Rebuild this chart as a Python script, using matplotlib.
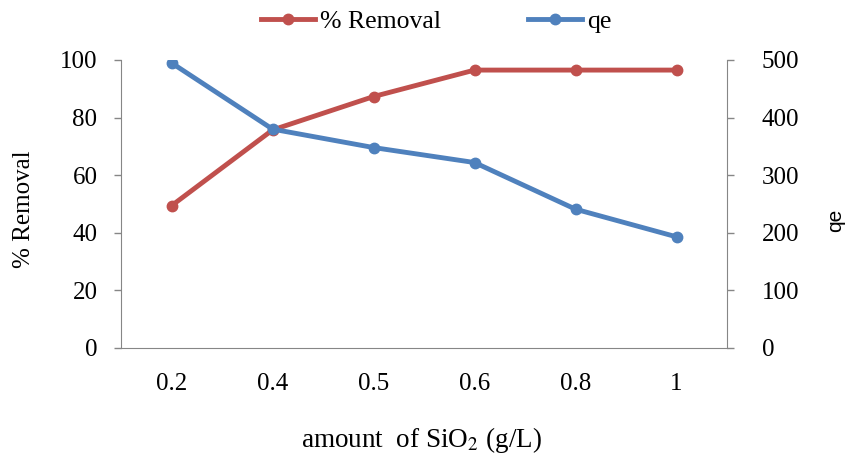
import numpy as np
import matplotlib.pyplot as plt

plt.rcParams['font.family'] = 'Liberation Serif'
plt.rcParams['mathtext.fontset'] = 'stix'

# data
doses = ['0.2', '0.4', '0.5', '0.6', '0.8', '1']
removal = [49.4, 75.7, 87.3, 96.5, 96.5, 96.5]
qe = [495, 380, 348, 322, 241, 193]

red = '#C0504D'
blue = '#4F81BD'
grey = '#868686'

W, H = 847, 457
fig = plt.figure(figsize=(W / 100, H / 100), dpi=100)
ax = fig.add_axes([121/W, 1 - 348/H, 606/W, 288/H])
ax2 = ax.twinx()

x = np.arange(len(doses))
l1, = ax.plot(x, removal, color=red, lw=3.5, marker='o', ms=7.5, label='% Removal')
l2, = ax2.plot(x, qe, color=blue, lw=3.5, marker='o', ms=7.5, label='qe')

ax.set_xlim(-0.5, len(doses) - 0.5)
ax.set_ylim(0, 100)
ax2.set_ylim(0, 500)
ax.set_yticks(np.arange(0, 101, 20))
ax2.set_yticks(np.arange(0, 501, 100))
ax.set_xticks(x)
ax.set_xticklabels(doses)

for a in (ax, ax2):
    a.spines['top'].set_visible(False)
    for s in ('left', 'right', 'bottom'):
        a.spines[s].set_color(grey)
    a.tick_params(axis='y', colors=grey, labelcolor='black', labelsize=18,
                  length=5, width=1, pad=12)
    a.tick_params(axis='x', length=0, labelsize=18, pad=18)
ax2.tick_params(axis='y', pad=20)
ax.spines['right'].set_visible(False)
ax2.spines['left'].set_visible(False)
ax2.spines['bottom'].set_visible(False)

fig.text(24/W, 1 - 209/H, '% Removal', fontsize=18, rotation=90,
         ha='center', va='center')
fig.text(836/W, 1 - 220/H, 'qe', fontsize=15, family='Liberation Sans',
         rotation=90, ha='center', va='center')
fig.text(421/W, 1 - 440/H, 'amount  of SiO$_2$ (g/L)', fontsize=19.5,
         ha='center', va='center')

fig.legend(handles=[l1, l2], loc='center', bbox_to_anchor=(436/W, 1 - 22/H), ncol=2,
           frameon=False, fontsize=18.5, handlelength=2.1, columnspacing=3.37,
           handletextpad=0.2)

fig.savefig('out.png', dpi=100)
